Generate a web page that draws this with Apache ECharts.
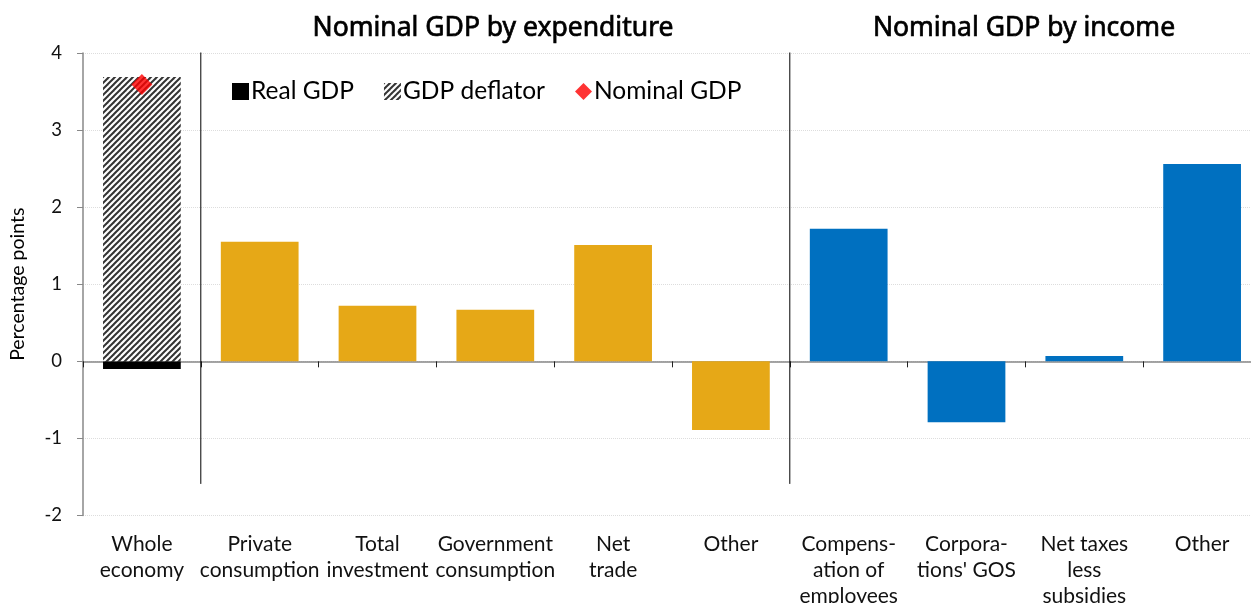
<!DOCTYPE html>
<html>
<head>
<meta charset="utf-8">
<script src="https://cdn.jsdelivr.net/npm/echarts@6/dist/echarts.min.js"></script>
<style>
  html, body { margin: 0; padding: 0; background: #fff; }
  #chart { width: 1251px; height: 603px; }
</style>
</head>
<body>
<div id="chart"></div>
<script>
const categories = ['Whole\neconomy', 'Private\nconsumption', 'Total\ninvestment', 'Government\nconsumption', 'Net\ntrade', 'Other',
  'Compens-\nation of\nemployees', "Corpora-\ntions' GOS", 'Net taxes\nless\nsubsidies', 'Other'];
const realGdp = [-0.1, '-', '-', '-', '-', '-', '-', '-', '-', '-'];
const gdpDeflator = [3.69, '-', '-', '-', '-', '-', '-', '-', '-', '-'];
const nominalGdp = [3.59, '-', '-', '-', '-', '-', '-', '-', '-', '-'];
const expenditure = ['-', 1.55, 0.72, 0.67, 1.51, -0.89, '-', '-', '-', '-'];
const income = ['-', '-', '-', '-', '-', '-', 1.72, -0.79, 0.07, 2.56];
const separators = [1, 6];
const yMin = -2, yMax = 4, yStep = 1;

const font = 'Lato';

// diagonal hatch for the deflator
function hatch() {
  const c = document.createElement('canvas');
  c.width = 6; c.height = 6;
  const ctx = c.getContext('2d');
  ctx.fillStyle = '#fff';
  ctx.fillRect(0, 0, 6, 6);
  ctx.strokeStyle = '#333';
  ctx.lineWidth = 2;
  [[-6, 6, 6, -6], [0, 6, 6, 0], [0, 12, 12, 0]].forEach(([x1, y1, x2, y2]) => {
    ctx.beginPath(); ctx.moveTo(x1, y1); ctx.lineTo(x2, y2); ctx.stroke();
  });
  return c;
}

const myChart = echarts.init(document.getElementById('chart'));

const sepSeries = separators.map(s => ({
  type: 'line',
  xAxisIndex: 2,
  data: [[s, 4.05], [s, -1.59]],
  symbol: 'none',
  silent: true,
  lineStyle: { color: '#000', width: 1 },
  z: 5
}));

const titleStyle = { fontFamily: 'Noto Sans', fontSize: 26.5, fontWeight: 'normal', color: '#000', textBorderColor: '#000', textBorderWidth: 0.7 };

const option = {
  animation: false,
  title: [
    { text: 'Nominal GDP by expenditure', left: 488, top: 10, textAlign: 'center', textStyle: titleStyle },
    { text: 'Nominal GDP by income', left: 1019, top: 10, textAlign: 'center', textStyle: titleStyle }
  ],
  legend: {
    left: 232, top: 79, padding: 0,
    itemWidth: 17, itemHeight: 17, itemGap: 30,
    textStyle: { fontFamily: font, fontSize: 24.5, color: '#000', padding: [0, 0, 0, -3] },
    data: [
      { name: 'Real GDP', icon: 'rect' },
      { name: 'GDP deflator', icon: 'rect' },
      { name: 'Nominal GDP', icon: 'diamond' }
    ]
  },
  grid: { left: 83, top: 53, width: 1178, bottom: 87.5, outerBoundsMode: 'none', containLabel: false },
  xAxis: [
    {
      type: 'category', data: categories, position: 'bottom',
      axisLine: { show: false, onZero: false }, axisTick: { show: false },
      axisLabel: { interval: 0, margin: 16, fontFamily: font, fontSize: 21, lineHeight: 26, color: '#111', verticalAlign: 'top' }
    },
    {
      type: 'category', data: categories, position: 'bottom',
      axisLine: { onZero: true, lineStyle: { color: '#888', width: 1.5 } },
      axisTick: { show: true, interval: 0, length: 6, lineStyle: { color: '#222' } },
      axisLabel: { show: false }
    },
    { type: 'value', min: 0, max: 10, show: false, position: 'top' }
  ],
  yAxis: {
    type: 'value', min: yMin, max: yMax, interval: yStep,
    name: 'Percentage points', nameLocation: 'middle', nameGap: 55,
    nameTextStyle: { fontFamily: font, fontSize: 19.5, color: '#000' },
    axisLine: { show: true, lineStyle: { color: '#888', width: 1.5 } },
    axisTick: { show: true, length: 6, lineStyle: { color: '#888' } },
    axisLabel: { fontFamily: font, fontSize: 18.5, color: '#111', margin: 21 },
    splitLine: { lineStyle: { color: '#ddd', type: 'dotted' } }
  },
  series: [
    { name: 'Real GDP', type: 'bar', stack: 'a', barWidth: '66%', data: realGdp,
      itemStyle: { color: '#000' } },
    { name: 'GDP deflator', type: 'bar', stack: 'a', data: gdpDeflator,
      itemStyle: { color: { image: hatch(), repeat: 'repeat' } } },
    { name: 'Expenditure', type: 'bar', stack: 'a', data: expenditure,
      itemStyle: { color: '#E6A817' } },
    { name: 'Income', type: 'bar', stack: 'a', data: income,
      itemStyle: { color: '#0070C0' } },
    { name: 'Nominal GDP', type: 'scatter', data: nominalGdp, symbol: 'diamond', symbolSize: 21,
      itemStyle: { color: '#FF0000' }, z: 10 },
    ...sepSeries
  ]
};

option && myChart.setOption(option);
</script>
</body>
</html>
